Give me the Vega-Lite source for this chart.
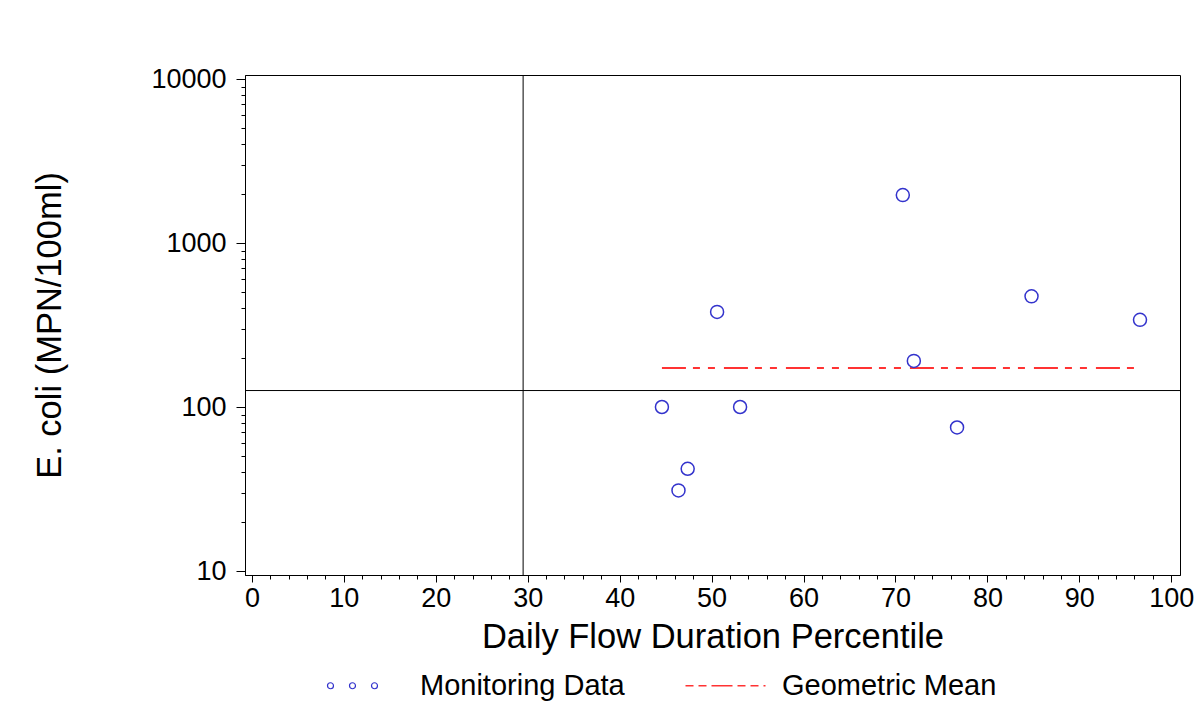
{
  "$schema": "https://vega.github.io/schema/vega-lite/v6.json",
  "width": 935,
  "height": 500,
  "autosize": {"type": "none"},
  "padding": {"left": 245, "top": 75, "right": 23, "bottom": 129},
  "background": "white",
  "config": {
    "font": "Liberation Sans",
    "view": {"stroke": "black", "strokeWidth": 1},
    "axis": {
      "grid": false,
      "domainColor": "black",
      "tickColor": "black",
      "labelColor": "black",
      "titleColor": "black",
      "titleFontWeight": "normal",
      "labelFont": "Liberation Sans",
      "titleFont": "Liberation Sans"
    },
    "legend": {
      "orient": "none",
      "legendX": 104,
      "legendY": 596,
      "direction": "horizontal",
      "symbolSize": 6400,
      "labelFontSize": 29,
      "labelFont": "Liberation Sans",
      "labelColor": "black",
      "labelOffset": 42,
      "labelLimit": 400,
      "columnPadding": 57
    }
  },
  "datasets": {
    "points": [
      {"percentile": 44.6, "ecoli": 100, "series": "Monitoring Data"},
      {"percentile": 46.4, "ecoli": 31, "series": "Monitoring Data"},
      {"percentile": 47.4, "ecoli": 42, "series": "Monitoring Data"},
      {"percentile": 50.6, "ecoli": 380, "series": "Monitoring Data"},
      {"percentile": 53.1, "ecoli": 100, "series": "Monitoring Data"},
      {"percentile": 70.8, "ecoli": 1960, "series": "Monitoring Data"},
      {"percentile": 72.0, "ecoli": 191, "series": "Monitoring Data"},
      {"percentile": 76.7, "ecoli": 75, "series": "Monitoring Data"},
      {"percentile": 84.8, "ecoli": 473, "series": "Monitoring Data"},
      {"percentile": 96.6, "ecoli": 340, "series": "Monitoring Data"}
    ],
    "geomean": [
      {"percentile": 44.6, "ecoli": 173, "series": "Geometric Mean"},
      {"percentile": 96.6, "ecoli": 173, "series": "Geometric Mean"}
    ],
    "refx": [{"percentile": 29.5}],
    "refy": [{"ecoli": 126}]
  },
  "layer": [
    {
      "data": {"name": "refx"},
      "mark": {"type": "rule", "color": "black", "strokeWidth": 1},
      "encoding": {
        "x": {
          "field": "percentile", "type": "quantitative",
          "scale": {"domain": [-0.75, 100.95], "nice": false, "zero": false},
          "axis": {
            "orient": "bottom", "title": null, "labels": false, "domain": false,
            "tickSize": 4,
            "values": [2,4,6,8,12,14,16,18,22,24,26,28,32,34,36,38,42,44,46,48,52,54,56,58,62,64,66,68,72,74,76,78,82,84,86,88,92,94,96,98]
          }
        }
      }
    },
    {
      "data": {"name": "refy"},
      "mark": {"type": "rule", "color": "black", "strokeWidth": 1},
      "encoding": {
        "y": {
          "field": "ecoli", "type": "quantitative",
          "scale": {"type": "log", "domain": [9.454, 10578], "nice": false, "zero": false},
          "axis": {
            "orient": "left", "title": null, "labels": false, "domain": false,
            "tickSize": 4,
            "values": [20,30,40,50,60,70,80,90,200,300,400,500,600,700,800,900,2000,3000,4000,5000,6000,7000,8000,9000]
          }
        }
      }
    },
    {
      "data": {"name": "geomean"},
      "mark": {"type": "line", "strokeWidth": 2, "strokeDash": [24, 7, 7, 8, 7, 9]},
      "encoding": {
        "x": {
          "field": "percentile", "type": "quantitative",
          "scale": {"domain": [-0.75, 100.95], "nice": false, "zero": false},
          "axis": null
        },
        "y": {
          "field": "ecoli", "type": "quantitative",
          "scale": {"type": "log", "domain": [9.454, 10578], "nice": false, "zero": false},
          "axis": null
        },
        "color": {
          "field": "series", "type": "nominal",
          "scale": {"domain": ["Monitoring Data", "Geometric Mean"], "range": ["#3333cc", "#ff3333"]},
          "legend": {
            "title": null,
            "encode": {
              "symbols": {
                "update": {
                  "size": {"value": 6400},
                  "shape": {"signal": "datum.value === 'Monitoring Data' ? 'M-0.9,0A0.075,0.075,0,1,0,-0.75,0A0.075,0.075,0,1,0,-0.9,0ZM-0.35,0A0.075,0.075,0,1,0,-0.2,0A0.075,0.075,0,1,0,-0.35,0ZM0.2,0A0.075,0.075,0,1,0,0.35,0A0.075,0.075,0,1,0,0.2,0Z' : 'M-1,0L1,0'"},
                  "stroke": {"signal": "datum.value === 'Monitoring Data' ? '#3333cc' : '#ff3333'"},
                  "fill": {"value": "transparent"},
                  "strokeDash": {"signal": "datum.value === 'Monitoring Data' ? [] : [8, 5, 8, 5, 21, 5]"},
                  "strokeWidth": {"signal": "datum.value === 'Monitoring Data' ? 1.2 : 1.6"},
                  "opacity": {"value": 1}
                }
              }
            }
          }
        }
      }
    },
    {
      "data": {"name": "points"},
      "mark": {"type": "point", "shape": "circle", "filled": false, "size": 169, "strokeWidth": 1.5, "opacity": 1},
      "encoding": {
        "x": {
          "field": "percentile", "type": "quantitative",
          "scale": {"domain": [-0.75, 100.95], "nice": false, "zero": false},
          "axis": {
            "orient": "bottom",
            "title": "Daily Flow Duration Percentile",
            "values": [0,10,20,30,40,50,60,70,80,90,100],
            "format": "d",
            "tickSize": 7,
            "labelPadding": 3,
            "labelFontSize": 27,
            "titleFontSize": 34.5,
            "titlePadding": 9,
            "labelFlush": false,
            "labelOverlap": false
          }
        },
        "y": {
          "field": "ecoli", "type": "quantitative",
          "scale": {"type": "log", "domain": [9.454, 10578], "nice": false, "zero": false},
          "axis": {
            "orient": "left",
            "title": "E. coli (MPN/100ml)",
            "values": [10, 100, 1000, 10000],
            "format": "d",
            "tickSize": 9,
            "labelPadding": 10,
            "labelFontSize": 27,
            "titleFontSize": 34.5,
            "titlePadding": 83,
            "labelFlush": false,
            "labelOverlap": false
          }
        },
        "color": {
          "field": "series", "type": "nominal",
          "scale": {"domain": ["Monitoring Data", "Geometric Mean"], "range": ["#3333cc", "#ff3333"]},
          "legend": {
            "title": null,
            "encode": {
              "symbols": {
                "update": {
                  "size": {"value": 6400},
                  "shape": {"signal": "datum.value === 'Monitoring Data' ? 'M-0.9,0A0.075,0.075,0,1,0,-0.75,0A0.075,0.075,0,1,0,-0.9,0ZM-0.35,0A0.075,0.075,0,1,0,-0.2,0A0.075,0.075,0,1,0,-0.35,0ZM0.2,0A0.075,0.075,0,1,0,0.35,0A0.075,0.075,0,1,0,0.2,0Z' : 'M-1,0L1,0'"},
                  "stroke": {"signal": "datum.value === 'Monitoring Data' ? '#3333cc' : '#ff3333'"},
                  "fill": {"value": "transparent"},
                  "strokeDash": {"signal": "datum.value === 'Monitoring Data' ? [] : [8, 5, 8, 5, 21, 5]"},
                  "strokeWidth": {"signal": "datum.value === 'Monitoring Data' ? 1.2 : 1.6"},
                  "opacity": {"value": 1}
                }
              }
            }
          }
        }
      }
    }
  ],
  "resolve": {"axis": {"x": "independent", "y": "independent"}}
}
